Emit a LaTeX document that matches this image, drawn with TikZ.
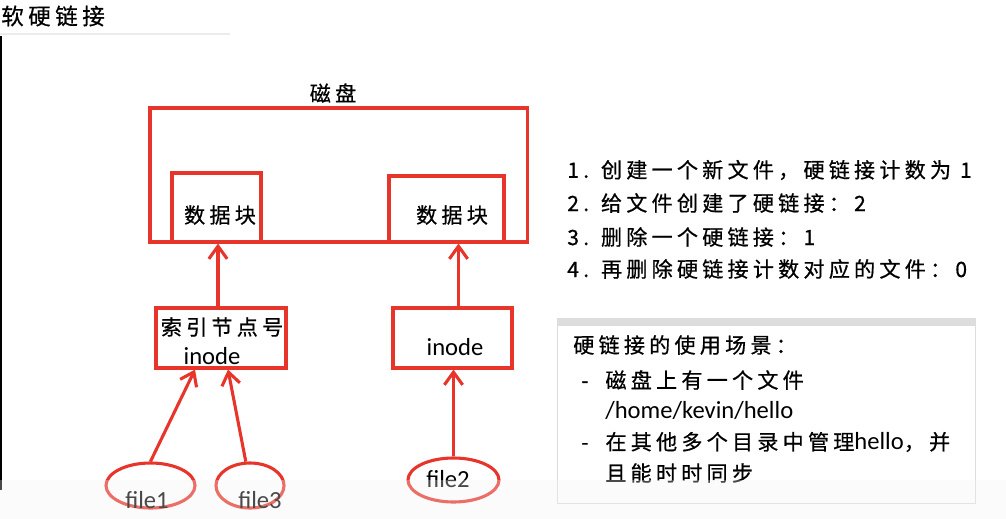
\documentclass[tikz,border=0pt]{standalone}
\usepackage{xcolor}
\definecolor{LinkRed}{HTML}{E8352C}
\definecolor{PanelGray}{HTML}{DDDDDD}
\usepackage{fontspec}
\setmainfont{Carlito}
\newfontfamily\cjk{Noto Sans CJK SC}[LetterSpace=20,FakeBold=0.6]
\usepackage{tikz}
\usetikzlibrary{calc, arrows.meta, positioning, shapes.geometric}

\begin{document}
\begin{tikzpicture}[x=0.025cm,y=-0.025cm,
  redbox/.style={draw=LinkRed,line width=2.2pt,rectangle,inner sep=0pt},
  fileell/.style={draw=LinkRed,line width=2.2pt,ellipse,inner sep=0pt},
  link/.style={draw=LinkRed,line width=2.2pt,-{Straight Barb[length=9pt,width=13pt]}},
  zh/.style={font=\cjk\fontsize{15}{18}\selectfont,inner sep=0pt},
  en/.style={font=\fontsize{17.5}{20}\selectfont,inner sep=0pt}]
  \useasboundingbox (0,0) rectangle (1006,519);
  \fill[white] (0,0) rectangle (1006,519);
  \node[zh,anchor=west,font=\cjk\fontsize{16}{18}\selectfont] (title) at (1,16) {软硬链接};
  \draw[gray!15,line width=1pt] (0,34)--(230,34);
  \draw[black,line width=1.4pt] (1,36)--(1,490);
  % disk and data blocks
  \node[redbox,minimum width=9.425cm,minimum height=3.35cm] (disk) at (338.5,175) {};
  \node[zh] (disklbl) at (333,93) {磁盘};
  \node[redbox,minimum width=2.225cm,minimum height=1.725cm] (blockL) at (216.5,207.5) {};
  \node[redbox,minimum width=2.875cm,minimum height=1.65cm] (blockR) at (446.5,209) {};
  \node[zh] at (220,215) {数据块};
  \node[zh] at (452,215) {数据块};
  % inodes
  \node[redbox,minimum width=3.25cm,minimum height=1.5cm] (inodeL) at (221,338) {};
  \node[redbox,minimum width=2.975cm,minimum height=1.5cm] (inodeR) at (452.5,338) {};
  \node[zh] at (222,327) {索引节点号};
  \node[en] at (212,356) {inode};
  \node[en] at (455,347) {inode};
  % files
  \node[fileell,minimum width=2.225cm,minimum height=1.125cm] (file1) at (150.5,485.5) {};
  \node[fileell,minimum width=1.7cm,minimum height=1.125cm] (file3) at (250,485.5) {};
  \node[fileell,minimum width=2.275cm,minimum height=1.1cm] (file2) at (453.5,480) {};
  \node[en] at (147,500) {file1};
  \node[en] at (260,500) {file3};
  \node[en] at (448,479) {file2};
  % links
  \coordinate (aL) at ($(inodeL.north)+(-3,0)$);
  \coordinate (aR) at ($(inodeR.north)+(6,0)$);
  \draw[link] (aL) -- (aL |- blockL.south);
  \draw[link] (aR) -- (aR |- blockR.south);
  \draw[link] (file1.north) -- ($(inodeL.south)+(-26,0)$);
  \draw[link] (file3.100) -- ($(inodeL.south)+(7,0)$);
  \draw[link] (file2.north) -- (file2.north |- inodeR.south);
  % notes
  \node[zh,anchor=west] (step1) at (567,170) {1. 创建一个新文件，硬链接计数为 1};
  \node[zh,anchor=west] (step2) at (567,203) {2. 给文件创建了硬链接：2};
  \node[zh,anchor=west] (step3) at (567,237) {3. 删除一个硬链接：1};
  \node[zh,anchor=west] (step4) at (567,269) {4. 再删除硬链接计数对应的文件：0};
  \node[draw=PanelGray,line width=0.6pt,minimum width=10.45cm,minimum height=4.625cm,inner sep=0pt] (usage) at (766,410.5) {};
  \fill[PanelGray] (usage.north west) rectangle ($(usage.north east)+(0,8)$);
  \node[zh,anchor=west] (u0) at (573,345) {硬链接的使用场景：};
  \node[zh,anchor=west] (u1) at (581,380) {-\hspace{0.8em}磁盘上有一个文件};
  \node[en,anchor=west] (u2) at (605,410) {/home/kevin/hello};
  \node[zh,anchor=west] (u3) at (581,442) {-\hspace{0.8em}在其他多个目录中管理{\fontspec{Carlito}\fontsize{17.5}{20}\selectfont hello}，并};
  \node[zh,anchor=west] (u4) at (605,473) {且能时时同步};
  \fill[black!5,opacity=0.3] (0,480) rectangle (1006,519);
\end{tikzpicture}
\end{document}
